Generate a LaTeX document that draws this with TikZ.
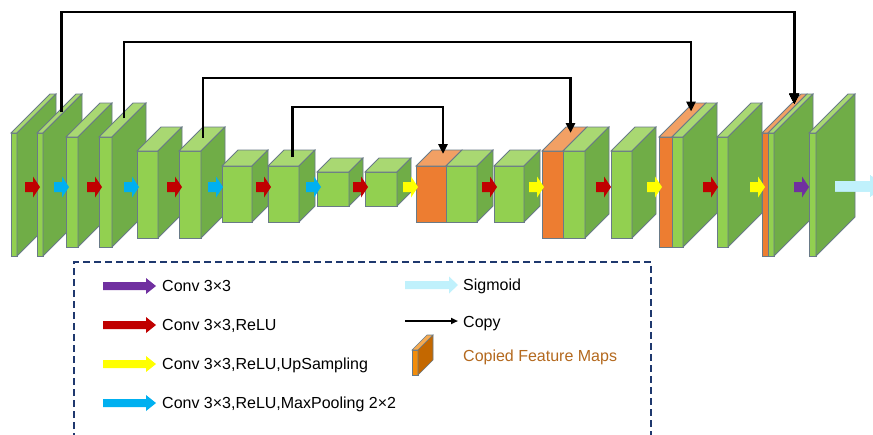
\documentclass[tikz,border=0pt]{standalone}
\usepackage{fontspec}
\setmainfont{Liberation Sans}
\usetikzlibrary{arrows.meta}
\definecolor{gfront}{RGB}{146,208,80}
\definecolor{gtop}{RGB}{169,216,114}
\definecolor{gside}{RGB}{112,173,71}
\definecolor{ofront}{RGB}{237,125,49}
\definecolor{otop}{RGB}{242,160,100}
\definecolor{edge}{RGB}{105,122,135}
\definecolor{cred}{RGB}{192,0,0}
\definecolor{cblue}{RGB}{0,176,240}
\definecolor{cyell}{RGB}{255,255,0}
\definecolor{cpurp}{RGB}{112,48,160}
\definecolor{csig}{RGB}{192,241,252}
\definecolor{navy}{RGB}{31,56,110}
\definecolor{lfront}{RGB}{242,140,10}
\definecolor{lside}{RGB}{196,104,0}
\definecolor{ltop}{RGB}{246,170,80}
\definecolor{copied}{RGB}{180,105,30}
% feature map: name, x, y, width, height, depth
\newcommand{\fmap}[6]{%
  \node[face,fill=gfront,minimum width=#4pt,minimum height=#5pt,anchor=north west] (#1) at (#2,#3) {};
  \filldraw[face,fill=gtop] (#1.north west) -- ++(#6,-#6) -- ++(#4,0) -- (#1.north east) -- cycle;
  \filldraw[face,fill=gside] (#1.north east) -- ++(#6,-#6) -- ++(0,#5) -- (#1.south east) -- cycle;
  \coordinate (#1t) at ([shift={(0.55*#6,-0.55*#6)}]#1.north);}
% copied + new maps: name, x, y, orange width, green width, height, depth
\newcommand{\cmap}[7]{%
  \node[face,fill=ofront,minimum width=#4pt,minimum height=#6pt,anchor=north west] (#1o) at (#2,#3) {};
  \node[face,fill=gfront,minimum width=#5pt,minimum height=#6pt,anchor=north west] (#1) at (#1o.north east) {};
  \filldraw[face,fill=otop] (#1o.north west) -- ++(#7,-#7) -- ++(#4,0) -- (#1o.north east) -- cycle;
  \filldraw[face,fill=gtop] (#1.north west) -- ++(#7,-#7) -- ++(#5,0) -- (#1.north east) -- cycle;
  \filldraw[face,fill=gside] (#1.north east) -- ++(#7,-#7) -- ++(0,#6) -- (#1.south east) -- cycle;
  \coordinate (#1c) at ([shift={(0.75*#7,-0.75*#7)}]#1o.north);}
% block arrow: colour, x, y, length, body half, head half, head length
\newcommand{\fatarrow}[7]{%
  \fill[#1] (#2,{#3-#5}) -- ({#2+#4-#7},{#3-#5}) -- ({#2+#4-#7},{#3-#6}) -- ({#2+#4},#3)
    -- ({#2+#4-#7},{#3+#6}) -- ({#2+#4-#7},{#3+#5}) -- (#2,{#3+#5}) -- cycle;}

\begin{document}
\begin{tikzpicture}[x=1pt,y=-1pt,font=\fontsize{16}{19}\selectfont,
  face/.style={draw=edge,line width=0.8pt,inner sep=0pt,outer sep=0pt},
  copyline/.style={-{Triangle[length=10pt,width=9pt]},line width=2.5pt},
  lbl/.style={anchor=base west,inner sep=0pt}]
\clip (0,0) rectangle (873,434);
\fill[white] (0,0) rectangle (873,434);
% encoder
\fmap{b1}{11}{133}{6}{123}{39}
\fmap{b2}{37}{133}{6}{123}{39}
\fmap{b3}{66}{137}{12}{110}{34}
\fmap{b4}{99}{137}{13}{110}{34}
\fmap{b5}{137}{151}{21}{87}{24}
\fmap{b6}{179}{151}{22}{87}{24}
\fmap{b7}{222}{166}{30}{56}{16}
\fmap{b8}{268}{166}{31}{56}{16}
\fmap{b9}{317}{172}{32}{34}{14}
\fmap{b10}{365}{172}{32}{34}{14}
% decoder
\cmap{b11}{416}{166}{30}{31}{56}{16}
\fmap{b12}{494}{166}{30}{56}{16}
\cmap{b13}{542}{151}{21}{22}{87}{24}
\fmap{b14}{611}{151}{21}{87}{24}
\cmap{b15}{659}{137}{13}{11}{110}{34}
\fmap{b16}{717}{137}{11}{110}{34}
\cmap{b17}{762}{133}{6}{6}{123}{39}
\fmap{b18}{809}{133}{7}{123}{39}
% operations
\foreach \x/\c in {25/cred,54/cblue,87/cred,124/cblue,167/cred,208/cblue,256/cred,306/cblue,
  353/cred,403/cyell,482/cred,529/cyell,596/cred,647/cyell,703/cred,750/cyell,794/cpurp}
  \fatarrow{\c}{\x}{187}{15}{5}{10.5}{7}
\fatarrow{csig}{835}{186}{50}{5}{10.5}{15}
% skip connections
\draw[copyline] (b2t) -- (b2t |- 0,12) -| (b17c);
\draw[copyline] (b4t) -- (b4t |- 0,42) -| (b15c);
\draw[copyline] (b6t) -- (b6t |- 0,78) -| (b13c);
\draw[copyline] (b8t) -- (b8t |- 0,107) -| (b11c);
% legend
\draw[navy,line width=2pt,dash pattern=on 7pt off 4pt] (74,440) -- (74,262) -- (651,262) -- (651,440);
\foreach \n/\c/\y/\t in {l1/cpurp/286/{Conv 3×3},l2/cred/325/{Conv 3×3,ReLU},
  l3/cyell/364/{Conv 3×3,ReLU,UpSampling},l4/cblue/403/{Conv 3×3,ReLU,MaxPooling 2×2}}{
  \fatarrow{\c}{103}{\y}{53}{4}{8}{10}
  \node[lbl] (\n) at (162,{\y+5}) {\t};}
\fatarrow{csig}{405}{285}{53}{4}{8.5}{9}
\node[lbl] (l5) at (463,290) {Sigmoid};
\coordinate (cpa) at (405,321);
\coordinate (cpb) at (458,321);
\draw[-{Triangle[length=7pt,width=6pt]},line width=1.8pt] (cpa) -- (cpb);
\node[lbl] (l6) at (463,327) {Copy};
\node[draw=edge,line width=0.6pt,fill=lfront,minimum width=6pt,minimum height=25pt,inner sep=0pt,outer sep=0pt,anchor=north west] (lbox) at (412,350) {};
\filldraw[draw=edge,line width=0.6pt,fill=ltop] (lbox.north west) -- ++(15,-15) -- ++(6,0) -- (lbox.north east) -- cycle;
\filldraw[draw=edge,line width=0.6pt,fill=lside] (lbox.north east) -- ++(15,-15) -- ++(0,25) -- (lbox.south east) -- cycle;
\node[lbl,text=copied] (l7) at (463,361) {Copied Feature Maps};
\end{tikzpicture}
\end{document}
